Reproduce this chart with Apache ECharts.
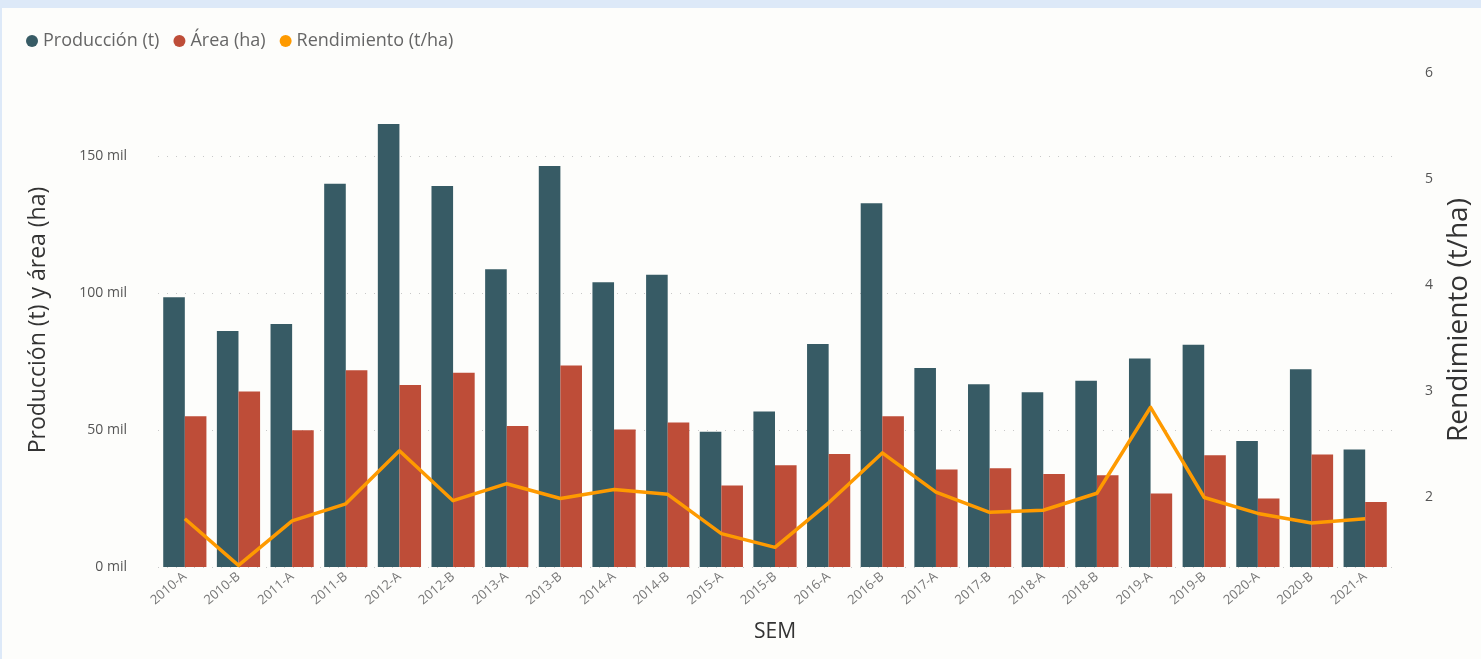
<!DOCTYPE html>
<html>
<head>
<meta charset="utf-8">
<script src="https://cdn.jsdelivr.net/npm/echarts@6.0.0/dist/echarts.min.js"></script>
<style>
  html, body { margin: 0; padding: 0; background: #dde9f8; }
  #main { position: absolute; left: 2px; top: 8px; width: 1479px; height: 651px; background: #fdfdfb; }
</style>
</head>
<body>
<div id="main"></div>
<script>
// semestres
var categories = ['2010-A','2010-B','2011-A','2011-B','2012-A','2012-B','2013-A','2013-B','2014-A','2014-B',
  '2015-A','2015-B','2016-A','2016-B','2017-A','2017-B','2018-A','2018-B','2019-A','2019-B','2020-A','2020-B','2021-A'];

// Producción (t)
var produccion = [98400, 86100, 88600, 139800, 161600, 139000, 108600, 146300, 103900, 106600,
  49300, 56700, 81300, 132700, 72600, 66700, 63700, 67900, 76100, 81100, 46000, 72100, 42900];

// Área (ha)
var area = [55000, 64000, 49900, 71800, 66400, 70900, 51400, 73500, 50200, 52700,
  29700, 37100, 41200, 55000, 35600, 36000, 33900, 33500, 26800, 40800, 25000, 41000, 23700];

// Rendimiento (t/ha)
var rendimiento = [1.80, 1.36, 1.78, 1.94, 2.44, 1.97, 2.13, 1.99, 2.075, 2.03,
  1.66, 1.53, 1.95, 2.42, 2.05, 1.86, 1.88, 2.04, 2.85, 2.00, 1.85, 1.76, 1.80];

var fuente = "'Segoe UI', 'Open Sans', 'Noto Sans', sans-serif";

var myChart = echarts.init(document.getElementById('main'));

var option = {
  animation: false,
  textStyle: { fontFamily: fuente },
  color: ['#375b65', '#be4d38', '#fe9a00'],
  legend: {
    left: 19,
    top: 19,
    icon: 'circle',
    itemWidth: 12,
    itemHeight: 12,
    itemGap: 14,
    textStyle: { color: '#666', fontSize: 18 },
    data: ['Producción (t)', 'Área (ha)', 'Rendimiento (t/ha)']
  },
  grid: { left: 156, right: 85, top: 65, bottom: 92 },
  xAxis: {
    type: 'category',
    data: categories,
    name: 'SEM',
    nameLocation: 'middle',
    nameGap: 55,
    nameTextStyle: { color: '#333', fontSize: 21 },
    axisLine: { show: false },
    axisTick: { show: false },
    axisLabel: { rotate: 40, color: '#777', fontSize: 13, margin: 8, interval: 0 }
  },
  yAxis: [
    {
      type: 'value',
      min: 0,
      max: 180200,
      interval: 50000,
      name: 'Producción (t) y área (ha)',
      nameLocation: 'middle',
      nameRotate: 90,
      nameGap: 108,
      nameTextStyle: { color: '#333', fontSize: 23 },
      axisLine: { show: false },
      axisTick: { show: false },
      axisLabel: {
        color: '#555', fontSize: 14, margin: 31, showMaxLabel: false,
        formatter: function (v) { return (v / 1000) + ' mil'; }
      },
      splitLine: { showMaxLine: false, lineStyle: { color: '#c8c8c8', type: [1, 8], width: 1 } }
    },
    {
      type: 'value',
      min: 1.345,
      max: 6,
      splitNumber: 5,
      name: 'Rendimiento (t/ha)',
      nameLocation: 'middle',
      nameRotate: 90,
      nameGap: 53,
      nameTextStyle: { color: '#333', fontSize: 28 },
      axisLine: { show: false },
      axisTick: { show: false },
      axisLabel: { color: '#555', fontSize: 14, margin: 33, showMinLabel: false },
      splitLine: { show: false }
    }
  ],
  series: [
    {
      name: 'Producción (t)',
      type: 'bar',
      data: produccion,
      barWidth: 21.6,
      barGap: '0%'
    },
    {
      name: 'Área (ha)',
      type: 'bar',
      data: area,
      barWidth: 21.6,
      barGap: '0%'
    },
    {
      name: 'Rendimiento (t/ha)',
      type: 'line',
      yAxisIndex: 1,
      data: rendimiento,
      showSymbol: false,
      symbol: 'circle',
      lineStyle: { width: 3.5, join: 'round' }
    }
  ]
};

myChart.setOption(option);
</script>
</body>
</html>
